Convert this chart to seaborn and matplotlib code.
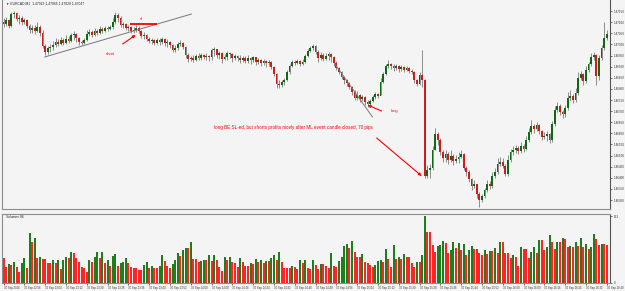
import matplotlib

matplotlib.use("Agg")
import matplotlib.pyplot as plt
import pandas as pd
import seaborn as sns

# EURCAD M1, 30 Sep 2016 -- prices kept as pips above 1.4600
PIP_BASE = 1.46
FIRST_OPEN = 110.1

CLOSE = [
    109.2, 111.0, 108.3, 113.7, 114.2, 111.5, 111.9, 110.1, 111.0, 108.3,
    106.5, 107.4, 106.1, 107.9, 105.2, 99.3, 96.6, 98.4, 98.9, 99.8,
    101.1, 100.2, 102.0, 100.7, 102.5, 101.6, 104.3, 104.7, 102.9, 101.1,
    100.7, 102.0, 104.7, 105.6, 104.3, 106.1, 105.2, 107.0, 106.1, 107.4,
    107.0, 107.9,
    110.1, 113.3, 111.9, 108.8, 109.2, 107.4, 107.9, 106.1, 106.5,
    107.4, 106.1, 103.8, 104.3, 102.5, 101.6, 102.0, 100.7, 102.0, 101.1,
    102.5, 100.7, 101.1, 99.8, 97.5, 98.4, 100.2, 100.7, 98.9, 95.3,
    93.5, 93.9, 93.0, 94.8, 93.9, 95.3, 94.4, 94.8, 94.4, 97.5,
    98.0, 95.3, 96.2, 93.5, 94.4, 96.2, 95.7, 93.9, 94.8, 93.9,
    93.0, 93.9, 92.6, 93.9, 93.0, 94.4, 92.1, 93.0, 91.7, 92.6, 91.7,
    92.1, 89.9, 86.7, 82.2, 81.8, 83.1, 84.0, 87.6, 90.3, 92.1,
    91.7, 92.6, 91.2, 92.1, 94.8, 97.1, 98.4, 99.3, 96.6, 93.9, 95.3, 93.5, 94.8,
    95.7, 94.4, 91.7, 89.4, 87.6, 85.4, 84.0, 82.7, 80.9, 78.6,
    75.9, 77.3, 75.5, 76.4, 74.1, 73.2, 74.6, 76.4, 77.7, 76.8,
    83.1, 86.7, 90.3, 91.2, 90.3, 89.4, 90.3, 89.0, 89.9, 88.5,
    89.4, 88.1, 87.6, 84.0, 82.2, 86.3, 84.0, 40.8, 43.5, 44.4,
    52.5, 59.7, 57.0, 51.6, 48.9, 50.7, 48.0, 49.8, 47.6, 48.4,
    49.4, 50.7, 44.4, 42.6, 39.5, 36.3, 37.2, 32.7, 30.0, 31.8,
    34.5, 37.2, 36.3, 40.8, 42.6, 46.2, 47.1, 45.3, 41.7, 48.0,
    51.6, 52.5, 53.4, 52.1, 54.3, 53.0, 57.0, 60.6, 63.3, 62.0, 63.8, 61.1, 58.4, 58.8,
    59.7, 57.0, 64.2, 70.5, 72.3, 69.6, 68.7, 71.4, 75.9, 76.8,
    75.0, 78.2, 84.9, 86.7, 83.6, 88.5, 91.2, 94.4, 95.3, 85.8, 93.9, 98.4, 102.9, 104.7,
]

HIGH = [
    111.9, 112.4, 111.5, 114.6, 115.1, 114.6, 113.3, 112.8, 111.9, 111.5,
    109.2, 108.8, 108.8, 110.1, 108.8, 106.5, 100.2, 99.3, 100.2, 101.6,
    102.9, 102.5, 103.4, 102.9, 104.3, 103.8, 105.2, 106.1, 105.2, 103.4,
    102.0, 102.9, 106.5, 107.0, 106.5, 107.4, 107.0, 108.3, 107.9, 108.3,
    108.3, 108.8,
    111.9, 114.6, 114.2, 112.8, 110.1, 109.7, 108.8, 108.3, 107.9,
    108.8, 108.3, 106.5, 105.6, 104.7, 103.4, 102.9, 102.5, 102.9, 102.9,
    103.4, 102.9, 102.5, 101.6, 100.2, 99.8, 101.1, 102.0, 101.1, 99.3,
    96.2, 94.8, 95.3, 95.7, 96.2, 96.2, 95.7, 96.2, 95.3, 98.4,
    98.9, 97.5, 97.1, 96.6, 95.7, 97.1, 96.6, 96.2, 95.7, 95.3,
    95.3, 94.8, 94.8, 95.3, 94.4, 94.8, 94.4, 93.9, 93.5, 93.5, 93.0,
    93.0, 92.6, 90.3, 87.2, 84.0, 84.0, 84.9, 88.5, 91.2, 93.0,
    93.0, 93.5, 93.0, 93.5, 95.7, 98.0, 99.3, 100.2, 99.8, 97.5, 96.6, 96.2, 96.2,
    96.6, 96.2, 94.8, 92.6, 89.9, 88.1, 85.8, 84.5, 83.1, 81.3,
    79.5, 79.1, 77.7, 77.3, 76.8, 75.0, 75.5, 77.3, 78.6, 78.2,
    84.9, 87.6, 91.2, 93.0, 91.7, 91.2, 91.2, 90.8, 90.8, 90.3,
    90.3, 89.9, 89.0, 88.1, 84.5, 87.6, 97.5, 84.5, 45.8, 46.2,
    54.3, 62.4, 60.6, 57.9, 52.5, 52.5, 51.6, 52.5, 50.7, 50.3,
    51.6, 52.5, 51.2, 45.3, 43.5, 39.9, 39.0, 37.2, 33.6, 32.7,
    35.4, 39.0, 38.6, 42.6, 44.4, 48.9, 49.4, 48.9, 46.2, 50.3,
    53.0, 54.3, 54.8, 54.3, 56.1, 55.2, 58.8, 62.4, 66.0, 64.2, 65.1, 64.2, 61.5, 60.6,
    61.1, 60.2, 65.6, 72.3, 74.1, 73.2, 70.5, 72.8, 78.6, 79.5,
    77.7, 80.4, 87.6, 88.1, 87.2, 90.3, 92.1, 96.2, 96.6, 95.7, 95.3, 99.8, 110.1, 106.5,
]

LOW = [
    107.9, 108.3, 107.4, 107.9, 111.9, 110.6, 109.2, 108.8, 109.2, 107.4,
    105.2, 105.2, 104.7, 105.6, 103.8, 98.4, 95.3, 95.7, 96.6, 97.5,
    98.9, 99.3, 99.8, 99.8, 100.2, 100.7, 101.1, 102.0, 101.1, 99.8,
    99.8, 100.2, 101.6, 103.8, 103.4, 103.8, 104.3, 104.7, 105.2, 105.6,
    106.1, 106.5,
    107.0, 109.2, 110.1, 107.9, 107.4, 106.5, 106.1, 105.2, 105.2,
    105.6, 105.2, 102.9, 102.5, 101.6, 100.7, 100.2, 99.8, 100.2, 99.8,
    100.2, 99.3, 98.9, 98.4, 96.6, 96.6, 97.5, 99.3, 98.0, 93.9,
    92.1, 92.6, 92.1, 92.6, 93.0, 93.0, 93.5, 93.0, 92.6, 93.0,
    94.8, 93.9, 93.5, 91.7, 93.0, 93.0, 93.9, 92.1, 93.0, 92.6,
    91.7, 92.1, 91.7, 91.7, 91.2, 92.1, 90.8, 91.2, 90.3, 90.8, 89.9,
    90.3, 89.0, 85.8, 80.4, 80.4, 80.9, 81.8, 83.6, 86.7, 89.9,
    90.8, 91.2, 90.3, 90.8, 91.7, 94.4, 96.6, 97.5, 95.7, 92.1, 93.0, 92.6, 93.0,
    93.0, 92.1, 90.3, 88.5, 86.7, 84.5, 82.2, 81.3, 80.0, 77.3,
    75.0, 75.0, 74.1, 74.6, 72.8, 71.9, 72.3, 74.1, 75.5, 75.9,
    77.3, 82.7, 86.3, 89.4, 89.0, 88.1, 88.5, 87.6, 88.1, 87.6,
    88.1, 87.2, 86.7, 82.7, 81.3, 81.8, 80.9, 39.9, 39.9, 39.9,
    43.5, 52.5, 54.8, 50.3, 47.1, 47.1, 46.2, 47.1, 45.8, 46.7,
    46.7, 48.9, 43.5, 40.8, 38.1, 34.5, 35.4, 30.9, 26.9, 29.1,
    30.9, 33.6, 35.0, 35.4, 39.9, 41.7, 45.3, 44.4, 40.8, 40.8,
    47.1, 50.3, 51.2, 50.7, 51.2, 51.6, 52.5, 56.1, 59.7, 60.2, 61.1, 59.7, 57.0, 57.5,
    56.6, 55.7, 56.1, 63.3, 69.6, 68.3, 66.9, 67.4, 70.5, 74.6,
    73.7, 74.1, 77.3, 84.0, 81.8, 82.7, 87.6, 90.3, 93.0, 81.8, 84.0, 93.0, 97.5, 102.0,
]

VOLUME = [
    57, 36, 43, 41, 48, 36, 25, 46, 57, 34, 114, 93, 103, 57, 59, 55, 55, 46, 46, 52,
    46, 52, 32, 52, 59, 57, 71, 68, 57, 48, 36, 34, 25, 52, 48, 59, 71, 57, 71, 46,
    52, 39, 62, 66, 39, 46, 48, 57, 46, 36, 34, 34, 30, 30, 41, 48, 34, 39, 34, 34,
    39, 64, 50, 39, 34, 43, 52, 68, 62, 75, 80, 80, 93, 55, 55, 48, 50, 52, 52,
    64, 50, 64, 52, 36, 27, 59, 52, 59, 48, 45, 36, 57, 48, 39, 39, 46, 43, 55, 48, 52,
    46, 50, 50, 57, 64, 52, 71, 48, 34, 34, 34, 39, 36, 32, 52, 46, 52, 34, 32, 52, 40,
    32, 43, 43, 39, 34, 68, 39, 36, 50, 59, 84, 89, 80, 96, 71, 59, 59, 66, 48, 46, 42,
    36, 41, 50, 52, 48, 78, 55, 36, 87, 55, 59, 55, 66, 59, 59,
    46, 36, 48, 48, 64, 153, 116, 116, 87, 71, 84, 87, 96, 91, 68, 75, 93, 80, 91, 75,
    89, 64, 75, 84, 78, 78, 68, 64, 75, 66, 73, 73, 80, 68, 93, 93, 68, 68, 57, 64,
    59, 39, 82, 78, 78, 57, 71, 82, 68, 98, 98, 75, 82, 109, 93, 78, 93, 93, 103, 100,
    82, 84, 82, 93, 84, 103, 82, 89, 78, 82, 112, 100, 87, 89, 89, 86,
]

PRICE_TICKS_PIPS = [115, 110, 105, 100, 95, 90, 85, 80, 75, 70, 65, 60, 55, 50, 45, 40, 35, 30]

TIME_LABELS = [
    "30 Sep 2016", "30 Sep 12:56", "30 Sep 13:04", "30 Sep 13:12", "30 Sep 13:20",
    "30 Sep 13:28", "30 Sep 13:36", "30 Sep 13:44", "30 Sep 13:52", "30 Sep 14:00",
    "30 Sep 14:08", "30 Sep 14:16", "30 Sep 14:24", "30 Sep 14:32", "30 Sep 14:40",
    "30 Sep 14:48", "30 Sep 14:56", "30 Sep 15:04", "30 Sep 15:12", "30 Sep 15:20",
    "30 Sep 15:28", "30 Sep 15:36", "30 Sep 15:44", "30 Sep 15:52", "30 Sep 16:00",
    "30 Sep 16:08", "30 Sep 16:16", "30 Sep 16:24", "30 Sep 16:32", "30 Sep 16:40",
]

NOTE = "long BE SL-ed, but shorts profits nicely after ML event candle closed, 70 pips"

BG = "#f4f4f4"
BULL = "#0e6a12"
BEAR = "#d11a1a"
VOL_UP = "#1c7f1c"
VOL_DOWN = "#ff2424"
WICK = "#7c7c7c"
FRAME = "#8c8c8c"
TICK_SIZE = 2.2


def px(pips):
    return PIP_BASE + pips / 10000


def main() -> None:
    assert len(CLOSE) == len(HIGH) == len(LOW) == len(VOLUME)
    n = len(CLOSE)
    opens = [FIRST_OPEN] + CLOSE[:-1]
    candles = pd.DataFrame(
        {
            "bar": range(n),
            "open": [px(v) for v in opens],
            "high": [px(v) for v in HIGH],
            "low": [px(v) for v in LOW],
            "close": [px(v) for v in CLOSE],
            "volume": VOLUME,
        }
    )
    candles["rising"] = candles["close"] >= candles["open"]
    prev_vol = candles["volume"].shift(1).fillna(candles["volume"].iloc[0])
    candles["vol_dir"] = ["up" if v > p else "down" for v, p in zip(candles["volume"], prev_vol)]

    sns.set_theme(style="white")
    plt.rcParams["font.family"] = ["Liberation Sans", "DejaVu Sans"]

    W, H = 625, 291
    fig = plt.figure(figsize=(W / 100, H / 100), dpi=100, facecolor=BG)
    xlim = (-0.6, -0.6 + 608 / 2.6)

    ax = fig.add_axes([2 / W, 1 - 209 / H, 608 / W, 209 / H], facecolor=BG)
    ax.vlines(candles["bar"], candles["low"], candles["high"], color=WICK, lw=0.6, zorder=1)
    body = (candles["close"] - candles["open"]).where(lambda s: s.abs() > 1e-6, 0.00002)
    ax.bar(
        candles["bar"],
        body,
        bottom=candles["open"],
        width=0.7,
        color=[BULL if r else BEAR for r in candles["rising"]],
        linewidth=0,
        zorder=2,
    )
    ax.set_xlim(*xlim)
    ax.set_ylim(px(25.95), px(120))
    ax.set_xticks([])
    ax.yaxis.tick_right()
    ax.set_yticks([px(v) for v in PRICE_TICKS_PIPS])
    ax.set_yticklabels([f"{px(v):.5f}" for v in PRICE_TICKS_PIPS])
    ax.tick_params(axis="y", right=True, length=1.5, width=0.5, pad=1,
                   labelsize=TICK_SIZE, colors="#333333")
    for side, spine in ax.spines.items():
        spine.set_color("#555555" if side == "right" else FRAME)
        spine.set_linewidth(0.8)
    ax.spines["top"].set_visible(False)

    last = candles.iloc[-1]
    ax.text(0.006, 0.992,
            f"\u25bc EURCAD,M1  {last['open']:.5f} {last['high']:.5f} {last['low']:.5f} {last['close']:.5f}",
            transform=ax.transAxes, ha="left", va="top", fontsize=2.4, color="#222222")

    # trend lines
    ax.plot([15.8, 72.3], [px(94.35), px(113.7)], color="#777777", lw=0.7)
    ax.plot([127.7, 141.9], [px(90.75), px(67.35)], color="#777777", lw=0.7)

    # sl line and labels
    ax.plot([48.8, 59.2], [px(109.4), px(109.4)], color="red", lw=1.3, solid_capstyle="butt")
    ax.text(53.0, px(111.6), "sl", color="red", fontsize=3, ha="center", va="center")
    ax.text(41.2, px(95.7), "short", color="red", fontsize=3, ha="center", va="center")
    ax.text(150.5, px(70.0), "long", color="red", fontsize=3, ha="center", va="center")
    ax.text(80.8, px(62.4), NOTE, color="red", fontsize=3.35, ha="left", va="center")

    arrow = dict(arrowstyle="-|>", color="red", lw=0.8, mutation_scale=4, shrinkA=0, shrinkB=0)
    ax.annotate("", xy=(50.8, px(104.25)), xytext=(45.8, px(100.2)), arrowprops=arrow)
    ax.annotate("", xy=(140.0, px(72.75)), xytext=(145.4, px(70.05)), arrowprops=arrow)
    ax.annotate("", xy=(160.8, px(40.8)), xytext=(143.5, px(57.9)), arrowprops=arrow)

    # volume panel
    axv = fig.add_axes([2 / W, 1 - 283 / H, 608 / W, 69 / H], facecolor=BG)
    sns.barplot(
        data=candles,
        x="bar",
        y="volume",
        hue="vol_dir",
        palette={"up": VOL_UP, "down": VOL_DOWN},
        native_scale=True,
        dodge=False,
        width=0.74,
        errorbar=None,
        saturation=1,
        linewidth=0,
        legend=False,
        ax=axv,
    )
    vmax = max(VOLUME)
    axv.set_xlim(*xlim)
    axv.set_ylim(0, vmax * 1.03)
    axv.set_xlabel("")
    axv.set_ylabel("")
    axv.yaxis.tick_right()
    axv.set_yticks([0, vmax])
    axv.set_yticklabels(["0", str(vmax)])
    axv.tick_params(axis="y", right=True, length=1.5, width=0.5, pad=1,
                    labelsize=TICK_SIZE, colors="#333333")
    ticks = [8 * k for k in range(len(TIME_LABELS))]
    axv.set_xticks(ticks)
    axv.set_xticklabels(TIME_LABELS)
    axv.tick_params(axis="x", bottom=True, length=1.5, width=0.5, pad=1,
                    labelsize=2.0, colors="#333333")
    for lab in axv.get_xticklabels():
        lab.set_horizontalalignment("left")
    for side, spine in axv.spines.items():
        spine.set_color("#555555" if side == "right" else FRAME)
        spine.set_linewidth(0.8)
    axv.text(0.006, 0.985, f"Volumes {VOLUME[-1]}", transform=axv.transAxes,
             ha="left", va="top", fontsize=2.4, color="#222222")

    fig.savefig("out.png", dpi=100, facecolor=BG)
    plt.close(fig)


if __name__ == "__main__":
    main()
